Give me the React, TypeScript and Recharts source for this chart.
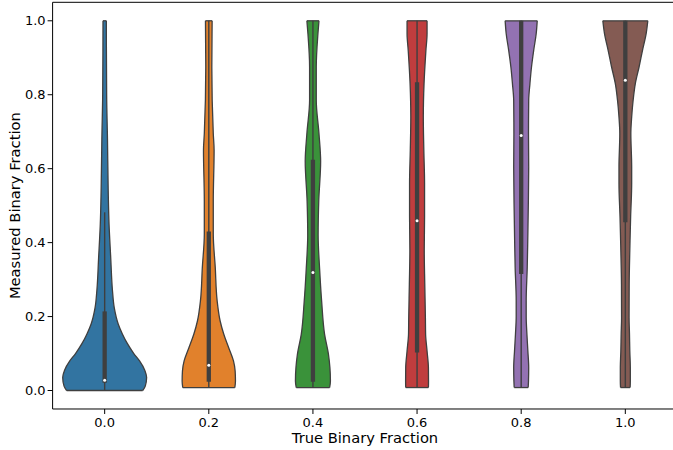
import React from 'react';
import { ComposedChart, Area, XAxis, YAxis, ReferenceLine, ReferenceDot } from 'recharts';

// Groups on the x axis (true binary fraction)
const CATEGORIES = ['0.0', '0.2', '0.4', '0.6', '0.8', '1.0'];
const COLORS = ['#3274a1', '#e1812c', '#3a923a', '#c03d3e', '#9372b2', '#845b53'];
const Y_TICKS = [0, 0.2, 0.4, 0.6, 0.8, 1.0];

// Kernel density outlines: [measured fraction, half width in category units]
const density00: [number, number][] = [
  [0.0, 0.365], [0.012, 0.39], [0.035, 0.403], [0.055, 0.385], [0.08, 0.335], [0.1, 0.28],
  [0.126, 0.22], [0.153, 0.17], [0.18, 0.13], [0.224, 0.092], [0.27, 0.075], [0.36, 0.058],
  [0.45, 0.042], [0.54, 0.034], [0.68, 0.027], [0.8, 0.019], [1.0, 0.016],
];
const density02: [number, number][] = [
  [0.008, 0.25], [0.026, 0.256], [0.053, 0.253], [0.08, 0.237], [0.115, 0.192], [0.152, 0.144],
  [0.188, 0.109], [0.243, 0.08], [0.333, 0.062], [0.423, 0.043], [0.513, 0.043], [0.65, 0.051],
  [0.695, 0.043], [0.875, 0.029], [1.0, 0.032],
];
const density04: [number, number][] = [
  [0.008, 0.16], [0.026, 0.168], [0.062, 0.163], [0.098, 0.149], [0.152, 0.112], [0.24, 0.084],
  [0.33, 0.064], [0.42, 0.05], [0.513, 0.056], [0.62, 0.074], [0.695, 0.058], [0.785, 0.032],
  [0.875, 0.032], [0.965, 0.048], [1.0, 0.058],
];
const density06: [number, number][] = [
  [0.008, 0.109], [0.026, 0.11], [0.062, 0.109], [0.107, 0.096], [0.152, 0.082], [0.197, 0.08],
  [0.288, 0.074], [0.378, 0.069], [0.47, 0.072], [0.56, 0.072], [0.65, 0.065], [0.74, 0.06],
  [0.83, 0.067], [0.92, 0.085], [0.965, 0.096], [1.0, 0.096],
];
const density08: [number, number][] = [
  [0.008, 0.067], [0.026, 0.07], [0.062, 0.072], [0.107, 0.064], [0.152, 0.055], [0.2, 0.048],
  [0.243, 0.048], [0.333, 0.058], [0.423, 0.064], [0.513, 0.069], [0.605, 0.072], [0.695, 0.07],
  [0.785, 0.072], [0.83, 0.084], [0.875, 0.099], [0.92, 0.12], [0.965, 0.144], [1.0, 0.154],
];
const density10: [number, number][] = [
  [0.008, 0.046], [0.026, 0.048], [0.062, 0.048], [0.107, 0.043], [0.152, 0.04], [0.197, 0.036],
  [0.288, 0.037], [0.378, 0.043], [0.47, 0.051], [0.56, 0.061], [0.605, 0.061], [0.695, 0.053],
  [0.74, 0.061], [0.785, 0.075], [0.83, 0.096], [0.875, 0.132], [0.92, 0.165], [0.965, 0.2],
  [1.0, 0.216],
];
const DENSITIES = [density00, density02, density04, density06, density08, density10];

// Inner box statistics per group
const WHISKER_LOW = [0.0, 0.008, 0.008, 0.008, 0.008, 0.008];
const Q1 = [0.021, 0.024, 0.024, 0.103, 0.315, 0.455];
const MEDIAN = [0.028, 0.068, 0.319, 0.459, 0.69, 0.839];
const Q3 = [0.214, 0.43, 0.624, 0.834, 1.0, 1.0];
const WHISKER_HIGH = [0.482, 1.0, 1.0, 1.0, 1.0, 1.0];

const EDGE = '#3f3f3f';
const FONT = 'DejaVu Sans, sans-serif';

export default function App() {
  return (
    <div
      style={{
        position: 'absolute',
        left: 0,
        top: 0,
        width: 673,
        height: 450,
        overflow: 'hidden',
        background: '#fff',
      }}
    >
      <ComposedChart
        layout="vertical"
        width={677.4}
        height={450}
        margin={{ top: 2.3, right: 0, bottom: 0, left: 0 }}
      >
        <XAxis
          type="number"
          dataKey="span"
          domain={[-0.5, 5.5]}
          allowDataOverflow
          ticks={[0, 1, 2, 3, 4, 5]}
          interval={0}
          tickFormatter={(v: number) => CATEGORIES[v]}
          height={41}
          tickSize={5}
          tickMargin={3.5}
          axisLine={{ stroke: '#000', strokeWidth: 1 }}
          tickLine={{ stroke: '#000', strokeWidth: 1 }}
          tick={{ fontSize: 13, fill: '#000', fontFamily: FONT }}
          label={{
            value: 'True Binary Fraction',
            position: 'insideBottom',
            offset: 7,
            style: { fontSize: 14.7, fill: '#000', fontFamily: FONT },
          }}
        />
        <YAxis
          type="number"
          dataKey="y"
          reversed
          domain={[-0.05, 1.05]}
          allowDataOverflow
          ticks={Y_TICKS}
          interval={0}
          tickFormatter={(v: number) => v.toFixed(1)}
          width={52.6}
          tickSize={5}
          tickMargin={2}
          axisLine={{ stroke: '#000', strokeWidth: 1 }}
          tickLine={{ stroke: '#000', strokeWidth: 1 }}
          tick={{ fontSize: 13, fill: '#000', fontFamily: FONT }}
          label={{
            value: 'Measured Binary Fraction',
            angle: -90,
            position: 'insideLeft',
            offset: 15,
            style: { fontSize: 14.7, fill: '#000', fontFamily: FONT, textAnchor: 'middle' },
          }}
        />
        <ReferenceLine y={1.05} stroke="#000" strokeWidth={1} />

        {DENSITIES.map((profile, i) => (
          <Area
            key={`violin-${i}`}
            data={profile.map(([y, hw]) => ({ y, span: [i - hw, i + hw] }))}
            dataKey="span"
            type="monotone"
            fill={COLORS[i]}
            fillOpacity={1}
            stroke={EDGE}
            strokeWidth={1.3}
            dot={false}
            activeDot={false}
            isAnimationActive={false}
          />
        ))}

        {DENSITIES.map((profile, i) => {
          const [yLo, hwLo] = profile[0];
          const [yHi, hwHi] = profile[profile.length - 1];
          return (
            <React.Fragment key={`caps-${i}`}>
              <ReferenceLine
                segment={[{ x: i - hwLo, y: yLo }, { x: i + hwLo, y: yLo }]}
                stroke={EDGE}
                strokeWidth={1.3}
              />
              <ReferenceLine
                segment={[{ x: i - hwHi, y: yHi }, { x: i + hwHi, y: yHi }]}
                stroke={EDGE}
                strokeWidth={1.3}
              />
            </React.Fragment>
          );
        })}

        {CATEGORIES.map((_, i) => (
          <React.Fragment key={`box-${i}`}>
            <ReferenceLine
              segment={[{ x: i, y: WHISKER_LOW[i] }, { x: i, y: WHISKER_HIGH[i] }]}
              stroke={EDGE}
              strokeWidth={1.4}
            />
            <ReferenceLine
              segment={[{ x: i, y: Q1[i] }, { x: i, y: Q3[i] }]}
              stroke={EDGE}
              strokeWidth={4.3}
            />
            <ReferenceDot x={i} y={MEDIAN[i]} r={1.5} fill="#fff" stroke="none" />
          </React.Fragment>
        ))}
      </ComposedChart>
    </div>
  );
}
